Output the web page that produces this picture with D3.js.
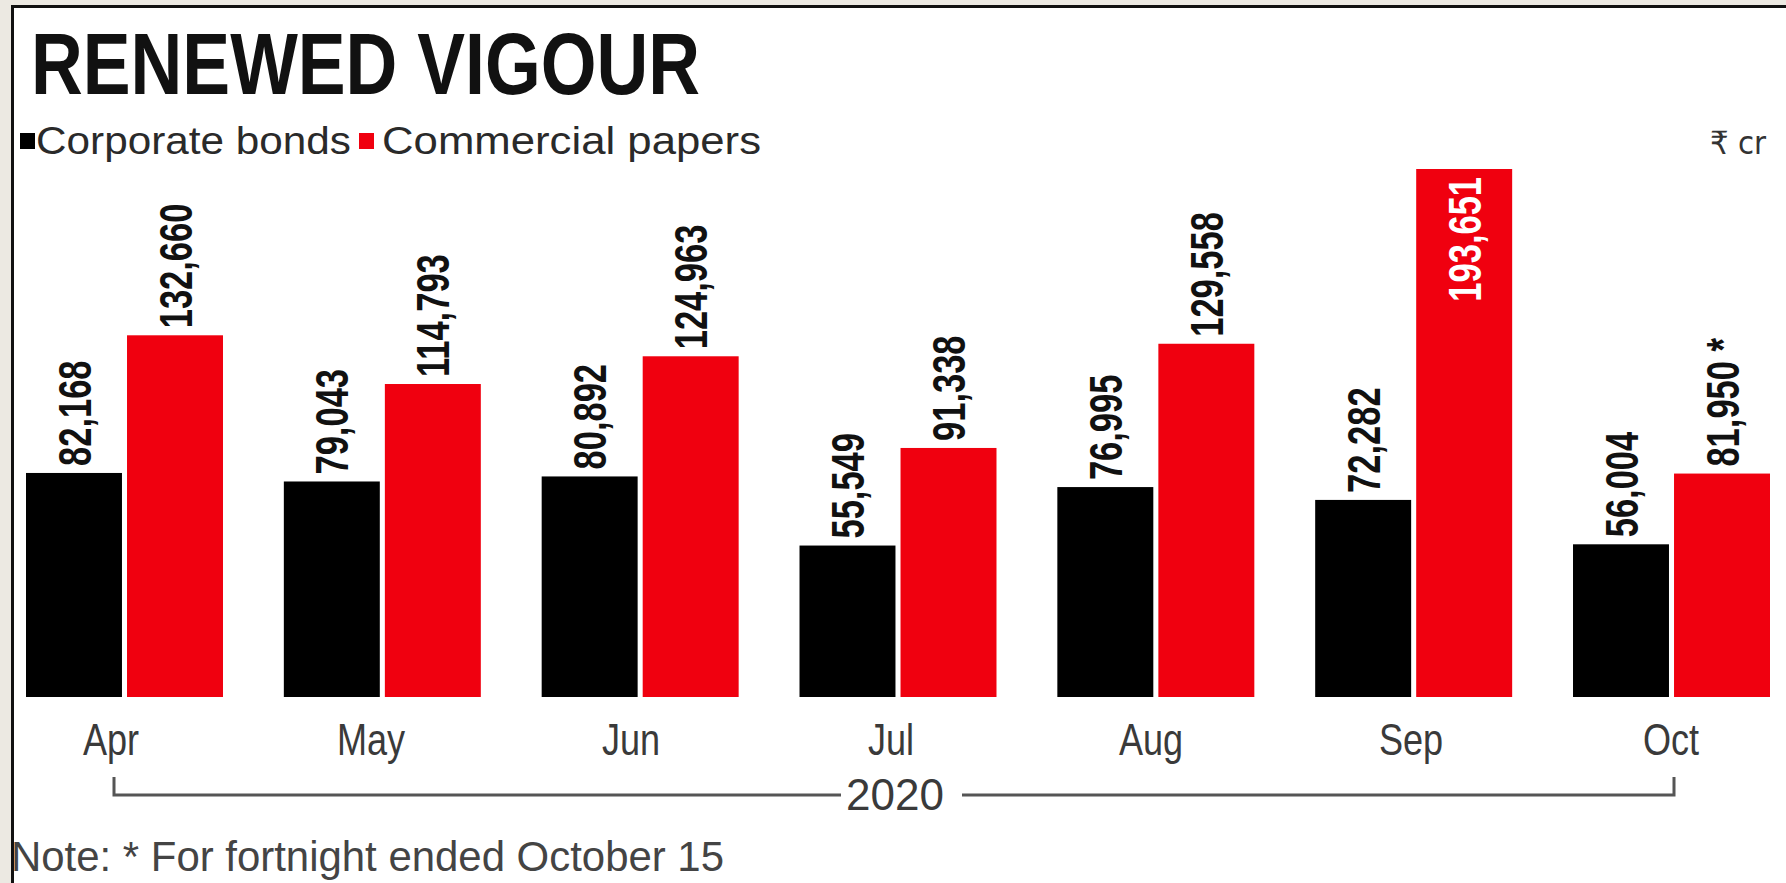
<!DOCTYPE html>
<html>
<head>
<meta charset="utf-8">
<script src="https://cdn.jsdelivr.net/npm/d3@7"></script>
<style>
  html, body { margin: 0; padding: 0; background: #ece9e2; }
  svg { display: block; }
</style>
</head>
<body>
<svg id="chart" width="1786" height="883"></svg>
<script>
// Monthly issuance, ₹ crore
const months = ["Apr", "May", "Jun", "Jul", "Aug", "Sep", "Oct"];
const corporateBonds = [82168, 79043, 80892, 55549, 76995, 72282, 56004];
const commercialPapers = [132660, 114793, 124963, 91338, 129558, 193651, 81950];
const seriesNames = ["Corporate bonds", "Commercial papers"];
const seriesColors = ["#000000", "#f0000f"];
const footnoteMonth = "Oct";      // partial month, flagged with an asterisk
const yearLabel = "2020";
const titleText = "RENEWED VIGOUR";
const unitText = "₹ cr";
const noteText = "Note: * For fortnight ended October 15";

const W = 1786, H = 883;
const svg = d3.select("#chart");
const FONT = "'Liberation Sans', Arimo, 'DejaVu Sans', sans-serif";

// Panel: beige page with a framed white card
svg.append("rect").attr("width", W).attr("height", H).attr("fill", "#ece9e2");
svg.append("rect").attr("x", 12).attr("y", 6).attr("width", W - 12).attr("height", H - 6).attr("fill", "#ffffff");
svg.append("line").attr("x1", 12).attr("x2", W).attr("y1", 6.5).attr("y2", 6.5)
  .attr("stroke", "#111").attr("stroke-width", 3);
svg.append("line").attr("x1", 12.5).attr("x2", 12.5).attr("y1", 5).attr("y2", H)
  .attr("stroke", "#111").attr("stroke-width", 3);

// Text helper: condensed look via horizontal scaling along the text direction
function label(g, x, y, text, o) {
  const t = g.append("text")
    .attr("transform", `translate(${x},${y}) rotate(${o.rotate || 0}) scale(${o.sx || 1},1)`)
    .attr("font-family", o.family || FONT)
    .attr("font-size", o.size)
    .attr("font-weight", o.weight || "normal")
    .attr("fill", o.fill || "#000")
    .attr("text-anchor", o.anchor || "start")
    .text(text);
  if (o.dy) t.attr("dy", o.dy);
  return t;
}

// Title
svg.append("text")
  .attr("x", 31).attr("y", 94)
  .attr("font-family", FONT).attr("font-weight", "bold").attr("font-size", 88)
  .attr("fill", "#111")
  .attr("textLength", 669).attr("lengthAdjust", "spacingAndGlyphs")
  .text(titleText);

// Legend
const legendItems = [
  { name: seriesNames[0], color: seriesColors[0], sq: 20, tx: 36, len: 315 },
  { name: seriesNames[1], color: seriesColors[1], sq: 359, tx: 382, len: 379 }
];
legendItems.forEach(d => {
  svg.append("rect").attr("x", d.sq).attr("y", 133).attr("width", 15).attr("height", 16).attr("fill", d.color);
  svg.append("text").attr("x", d.tx).attr("y", 154)
    .attr("font-family", FONT).attr("font-size", 38).attr("fill", "#2a2a2a")
    .attr("textLength", d.len).attr("lengthAdjust", "spacingAndGlyphs")
    .text(d.name);
});

// Unit
svg.append("text").attr("x", 1766).attr("y", 154).attr("text-anchor", "end")
  .attr("font-family", "'DejaVu Sans', 'Noto Sans', sans-serif").attr("font-size", 32).attr("fill", "#333")
  .attr("textLength", 56).attr("lengthAdjust", "spacingAndGlyphs")
  .text(unitText);

// Scales
const x = d3.scaleBand().domain(months).range([26, 1770]).paddingInner(0.236).paddingOuter(0);
const xs = d3.scaleBand().domain(seriesNames).range([0, x.bandwidth()]).paddingInner(0.05);
const y = d3.scaleLinear().domain([0, 193651]).range([697, 169]);
// Axis labels sit on their own evenly spaced positions
const xl = d3.scalePoint().domain(months).range([111, 1671]);

const rows = months.map((m, i) => ({
  month: m,
  values: [
    { series: seriesNames[0], value: corporateBonds[i], color: seriesColors[0] },
    { series: seriesNames[1], value: commercialPapers[i], color: seriesColors[1] }
  ]
}));

const fmt = d3.format(",");
const groups = svg.append("g").selectAll("g").data(rows).join("g")
  .attr("transform", d => `translate(${x(d.month)},0)`);

groups.selectAll("rect").data(d => d.values).join("rect")
  .attr("x", d => xs(d.series))
  .attr("y", d => y(d.value))
  .attr("width", xs.bandwidth())
  .attr("height", d => y(0) - y(d.value))
  .attr("fill", d => d.color);

// Value labels, rotated; labels that would run into the legend go inside the bar
groups.each(function (row) {
  const g = d3.select(this);
  row.values.forEach(v => {
    const cx = xs(v.series) + xs.bandwidth() / 2;
    const txt = fmt(v.value) + (row.month === footnoteMonth && v.series === seriesNames[1] ? " *" : "");
    const top = y(v.value);
    const inside = top - 140 < 160;
    label(g, cx, inside ? top + 8 : top - 7, txt, {
      rotate: -90, sx: 0.75, size: 46, weight: "bold", dy: "0.36em",
      anchor: inside ? "end" : "start",
      fill: inside ? "#ffffff" : "#111"
    });
  });
});

// Month axis labels
const axisG = svg.append("g");
months.forEach(m => {
  label(axisG, xl(m), 755, m, { size: 44, sx: 0.82, anchor: "middle", fill: "#3a3a3a" });
});

// Year bracket spanning the months
const bx0 = xl(months[0]) + 3;
const bx1 = xl(months[months.length - 1]) + 3;
const by = 795, bTop = 777;
const yearX = 895;
const br = svg.append("g").attr("stroke", "#555").attr("stroke-width", 3).attr("fill", "none");
br.append("path").attr("d", `M${bx0},${bTop}V${by}H${yearX - 54}`);
br.append("path").attr("d", `M${yearX + 67},${by}H${bx1}V${bTop}`);
label(svg, yearX, 810, yearLabel, { size: 44, sx: 1.0, anchor: "middle", fill: "#3a3a3a" });

// Footnote
svg.append("text").attr("x", 11).attr("y", 871)
  .attr("font-family", FONT).attr("font-size", 42).attr("fill", "#444")
  .attr("textLength", 713).attr("lengthAdjust", "spacingAndGlyphs")
  .text(noteText);
</script>
</body>
</html>
